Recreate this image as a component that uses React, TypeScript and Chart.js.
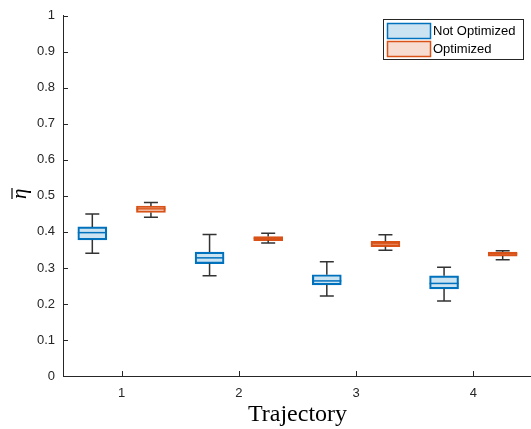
import React, { useEffect, useRef } from "react";
import { Chart, registerables } from "chart.js";

Chart.register(...registerables);

const categories = [1, 2, 3, 4];
const tickLabels = ["1", "2", "3", "4"];
const yTicks = [0, 0.1, 0.2, 0.3, 0.4, 0.5, 0.6, 0.7, 0.8, 0.9, 1];
const seriesNames = ["Not Optimized", "Optimized"];

// box statistics per trajectory: [min, q1, median, q3, max]
const notOptMin = [0.341, 0.278, 0.222, 0.208];
const notOptQ1 = [0.378, 0.312, 0.253, 0.242];
const notOptMed = [0.398, 0.328, 0.264, 0.257];
const notOptQ3 = [0.414, 0.344, 0.281, 0.278];
const notOptMax = [0.450, 0.393, 0.317, 0.302];

const optMin = [0.441, 0.369, 0.349, 0.323];
const optQ1 = [0.454, 0.376, 0.359, 0.333];
const optMed = [0.464, 0.382, 0.367, 0.339];
const optQ3 = [0.472, 0.387, 0.374, 0.344];
const optMax = [0.482, 0.396, 0.392, 0.348];

const groupOffset = 0.25;

const BLUE = "#0072BD";
const BLUE_FILL = "rgba(0,114,189,0.2)";
const ORANGE = "#D95319";
const ORANGE_FILL = "rgba(217,83,25,0.2)";
const AXIS = "#262626";

const boxStats = [
  { min: notOptMin, q1: notOptQ1, med: notOptMed, q3: notOptQ3, max: notOptMax, off: -groupOffset, color: BLUE },
  { min: optMin, q1: optQ1, med: optMed, q3: optQ3, max: optMax, off: groupOffset, color: ORANGE },
];

const boxPlugin = {
  id: "boxExtras",
  afterDatasetsDraw(chart: any) {
    const { ctx, scales } = chart;
    const xs = scales.x;
    const ys = scales.y;
    const boxW = 29;
    const capW = 14;
    ctx.save();
    boxStats.forEach((s) => {
      categories.forEach((c, i) => {
        const cx = xs.getPixelForValue(c + s.off);
        ctx.strokeStyle = "#333333";
        ctx.lineWidth = 1.5;
        ctx.beginPath();
        ctx.moveTo(cx, ys.getPixelForValue(s.q3[i]));
        ctx.lineTo(cx, ys.getPixelForValue(s.max[i]));
        ctx.moveTo(cx, ys.getPixelForValue(s.q1[i]));
        ctx.lineTo(cx, ys.getPixelForValue(s.min[i]));
        ctx.moveTo(cx - capW / 2, ys.getPixelForValue(s.max[i]));
        ctx.lineTo(cx + capW / 2, ys.getPixelForValue(s.max[i]));
        ctx.moveTo(cx - capW / 2, ys.getPixelForValue(s.min[i]));
        ctx.lineTo(cx + capW / 2, ys.getPixelForValue(s.min[i]));
        ctx.stroke();
        ctx.strokeStyle = s.color;
        ctx.lineWidth = 1.5;
        ctx.beginPath();
        const my = ys.getPixelForValue(s.med[i]);
        ctx.moveTo(cx - boxW / 2, my);
        ctx.lineTo(cx + boxW / 2, my);
        ctx.stroke();
      });
    });
    ctx.restore();
  },
  afterDraw(chart: any) {
    const { ctx, scales, chartArea } = chart;
    const xs = scales.x;
    const ys = scales.y;
    ctx.save();
    // inward ticks
    ctx.strokeStyle = AXIS;
    ctx.lineWidth = 1;
    ctx.beginPath();
    yTicks.forEach((v) => {
      const y = Math.round(ys.getPixelForValue(v)) + 0.5;
      ctx.moveTo(chartArea.left, y);
      ctx.lineTo(chartArea.left + 5, y);
    });
    categories.forEach((c) => {
      const x = Math.round(xs.getPixelForValue(c)) + 0.5;
      ctx.moveTo(x, chartArea.bottom);
      ctx.lineTo(x, chartArea.bottom - 5);
    });
    ctx.stroke();

    // y axis label (eta bar), rotated
    ctx.save();
    ctx.translate(22, ys.getPixelForValue(0.5) - 2);
    ctx.rotate(-Math.PI / 2);
    ctx.fillStyle = "#000";
    ctx.font = "italic 21px 'Liberation Serif'";
    ctx.textAlign = "center";
    ctx.textBaseline = "alphabetic";
    ctx.fillText("η", 0, 4);
    ctx.strokeStyle = "#000";
    ctx.lineWidth = 1.2;
    ctx.beginPath();
    ctx.moveTo(-5, -10);
    ctx.lineTo(6, -10);
    ctx.stroke();
    ctx.restore();

    // legend
    const lx = 383.5, ly = 19.5, lw = 140, lh = 40;
    ctx.fillStyle = "#fff";
    ctx.fillRect(lx, ly, lw, lh);
    ctx.strokeStyle = AXIS;
    ctx.lineWidth = 1;
    ctx.strokeRect(lx, ly, lw, lh);
    const fills = [BLUE_FILL, ORANGE_FILL];
    const borders = [BLUE, ORANGE];
    ctx.font = "13px 'Liberation Sans'";
    ctx.textBaseline = "middle";
    ctx.textAlign = "left";
    seriesNames.forEach((name, i) => {
      const sy = 23.5 + i * 18;
      ctx.fillStyle = fills[i];
      ctx.fillRect(387.5, sy, 43, 15);
      ctx.strokeStyle = borders[i];
      ctx.lineWidth = 1.5;
      ctx.strokeRect(387.5, sy, 43, 15);
      ctx.fillStyle = "#000";
      ctx.fillText(name, 433, sy + 8);
    });
    ctx.restore();
  },
};

export default function App() {
  const ref = useRef<HTMLCanvasElement>(null);
  useEffect(() => {
    if (!ref.current) return;
    const chart = new Chart(ref.current, {
      type: "bar",
      data: {
        datasets: [
          {
            label: seriesNames[0],
            data: categories.map((c, i) => ({ x: c - groupOffset, y: [notOptQ1[i], notOptQ3[i]] })) as any,
            backgroundColor: BLUE_FILL,
            borderColor: BLUE,
            borderWidth: 1.5,
            borderSkipped: false,
            barThickness: 29,
            grouped: false,
          },
          {
            label: seriesNames[1],
            data: categories.map((c, i) => ({ x: c + groupOffset, y: [optQ1[i], optQ3[i]] })) as any,
            backgroundColor: ORANGE_FILL,
            borderColor: ORANGE,
            borderWidth: 1.5,
            borderSkipped: false,
            barThickness: 29,
            grouped: false,
          },
        ],
      },
      options: {
        animation: false,
        responsive: false,
        events: [],
        grouped: false,
        layout: { padding: { top: 10, right: 8, left: 0, bottom: 0 } },
        plugins: { legend: { display: false }, tooltip: { enabled: false } },
        scales: {
          x: {
            type: "linear",
            min: 0.5,
            max: 4.5,
            offset: false,
            afterFit: (s: any) => { s.height = 53; },
            afterBuildTicks: (s: any) => { s.ticks = categories.map((v) => ({ value: v })); },
            grid: { display: false, drawTicks: false },
            border: { display: true, color: AXIS, width: 1 },
            ticks: {
              padding: 10,
              color: AXIS,
              font: { family: "'Liberation Sans'", size: 13 },
              callback: (v: any) => tickLabels[categories.indexOf(v)] ?? "",
            },
            title: {
              display: true,
              text: "Trajectory",
              color: "#000",
              font: { family: "'Liberation Serif'", size: 24 },
              padding: { top: 3, bottom: 0 },
            },
          } as any,
          y: {
            min: 0,
            max: 1,
            afterFit: (s: any) => { s.width = 63; },
            afterBuildTicks: (s: any) => { s.ticks = yTicks.map((v) => ({ value: v })); },
            grid: { display: false, drawTicks: false },
            border: { display: true, color: AXIS, width: 1 },
            ticks: {
              padding: 8,
              color: AXIS,
              font: { family: "'Liberation Sans'", size: 13 },
              callback: (v: any) => String(Math.round(v * 10) / 10),
            },
          },
        },
      } as any,
      plugins: [boxPlugin],
    });
    return () => chart.destroy();
  }, []);
  return (
    <div style={{ position: "fixed", left: 0, top: 0, width: 531, height: 429, overflow: "hidden", background: "#fff" }}>
      <canvas ref={ref} width={540} height={429} style={{ display: "block" }} />
    </div>
  );
}
